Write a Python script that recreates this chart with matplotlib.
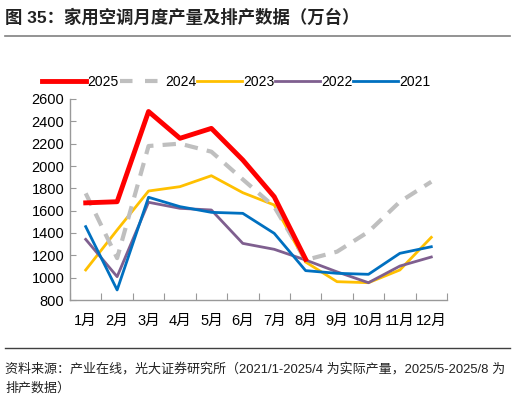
import numpy as np
import matplotlib
matplotlib.use("Agg")
from matplotlib import pyplot as plt
from matplotlib.lines import Line2D

plt.rcParams['font.family'] = ['Liberation Sans', 'Noto Sans CJK SC', 'DejaVu Sans']

# monthly household AC production (10k units)
months = ['1月', '2月', '3月', '4月', '5月', '6月', '7月', '8月', '9月', '10月', '11月', '12月']
y2025 = [1670, 1680, 2488, 2248, 2337, 2054, 1725, 1165]
y2024 = [1755, 1175, 2179, 2200, 2128, 1880, 1636, 1158, 1233, 1411, 1680, 1859]
y2023 = [1069, 1427, 1776, 1815, 1913, 1761, 1651, 1140, 964, 955, 1069, 1361]
y2022 = [1343, 1009, 1675, 1621, 1606, 1307, 1254, 1158, 1052, 955, 1104, 1185]
y2021 = [1457, 890, 1720, 1636, 1585, 1576, 1397, 1063, 1039, 1030, 1218, 1277]
yticks = [800, 1000, 1200, 1400, 1600, 1800, 2000, 2200, 2400, 2600]

fig = plt.figure(figsize=(5.15, 3.99), dpi=100)
ax = fig.add_axes([70 / 515, 1 - 300 / 399, 377 / 515, 201 / 399])

x = np.arange(len(months))
ax.plot(x, y2024, color='#BFBFBF', lw=3, dashes=(3.2, 2.2), label='2024', zorder=3)
ax.plot(x, y2023, color='#FFC000', lw=2, label='2023', zorder=2)
ax.plot(x, y2022, color='#7F5F8F', lw=2, label='2022', zorder=2)
ax.plot(x, y2021, color='#0070C0', lw=2, label='2021', zorder=2)
ax.plot(x[:len(y2025)], y2025, color='#FF0000', lw=3.5, label='2025', zorder=4)

ax.set_xlim(-0.5, 11.5)
ax.set_ylim(800, 2600)
ax.set_yticks(yticks)
ax.set_yticklabels([str(v) for v in yticks], fontsize=10.5)
ax.set_xticks(np.arange(-0.5, 12, 1))
ax.set_xticklabels([])
ax.set_xticks(x, minor=True)
ax.set_xticklabels(months, minor=True, fontsize=10.5)
ax.tick_params(axis='x', which='major', direction='in', length=5, color='#999999')
ax.tick_params(axis='x', which='minor', length=0, pad=10)
ax.tick_params(axis='y', direction='in', length=4, color='#999999', pad=4)
for s in ['top', 'right']:
    ax.spines[s].set_visible(False)
for s in ['left', 'bottom']:
    ax.spines[s].set_color('#999999')
    ax.spines[s].set_linewidth(1)

handles = [
    Line2D([], [], color='#FF0000', lw=3.5),
    Line2D([], [], color='#BFBFBF', lw=3, dashes=(3.0, 3.0)),
    Line2D([], [], color='#FFC000', lw=2),
    Line2D([], [], color='#7F5F8F', lw=2),
    Line2D([], [], color='#0070C0', lw=2),
]
fig.legend(handles, ['2025', '2024', '2023', '2022', '2021'], loc='center',
           bbox_to_anchor=(236 / 515, 1 - 82 / 399), ncol=5, frameon=False,
           fontsize=10, handlelength=3.2, handletextpad=0.1, columnspacing=0.05)

fig.text(5 / 515, 1 - 17 / 399, '图 35：家用空调月度产量及排产数据（万台）', fontsize=12.5,
         fontweight='bold', va='center', ha='left', color='#222222')
fig.add_artist(Line2D([5 / 515, 510 / 515], [1 - 36 / 399] * 2, color='#808080', lw=1.2))
fig.add_artist(Line2D([5 / 515, 510 / 515], [1 - 348 / 399] * 2, color='#404040', lw=1))
fig.text(5 / 515, 1 - 369 / 399,
         '资料来源：产业在线，光大证券研究所（2021/1-2025/4 为实际产量，2025/5-2025/8 为',
         fontsize=9.4, va='center', ha='left', color='#222222')
fig.text(5 / 515, 1 - 388 / 399, '排产数据）', fontsize=9.4, va='center', ha='left', color='#222222')

fig.savefig('out.png', dpi=100)
